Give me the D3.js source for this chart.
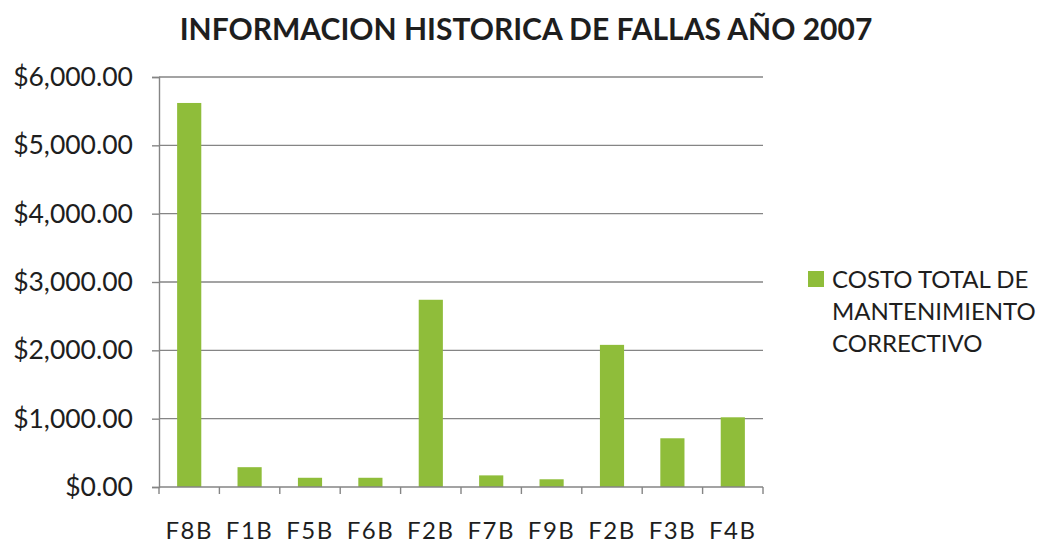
<!DOCTYPE html>
<html>
<head>
<meta charset="utf-8">
<script src="https://cdn.jsdelivr.net/npm/d3@7"></script>
<style>
  html, body { margin: 0; padding: 0; background: #fff; }
  svg { display: block; }
  text { font-family: Lato, "Open Sans", sans-serif; fill: #1e1e1e; }
</style>
</head>
<body>
<svg id="chart" width="1058" height="547"></svg>
<script>
// Fault codes and corrective maintenance cost (USD) for 2007
const categories = ["F8B", "F1B", "F5B", "F6B", "F2B", "F7B", "F9B", "F2B", "F3B", "F4B"];
const costs = [5620, 290, 135, 135, 2740, 170, 113, 2080, 713, 1020];
const yTicks = [0, 1000, 2000, 3000, 4000, 5000, 6000];
const titleText = "INFORMACION HISTORICA DE FALLAS AÑO 2007";
const legendLines = ["COSTO TOTAL DE", "MANTENIMIENTO", "CORRECTIVO"];

const svg = d3.select("#chart");
const margin = { left: 159, right: 295, top: 77, bottom: 60 };
const W = 1058, H = 547;
const plotW = W - margin.left - margin.right;
const plotH = H - margin.top - margin.bottom;

// band index keeps the duplicated "F2B" label as two separate bars
const x = d3.scaleBand()
  .domain(d3.range(categories.length))
  .range([0, plotW])
  .paddingInner(0.6)
  .paddingOuter(0.3);

const y = d3.scaleLinear().domain([0, 6000]).range([plotH, 0]);

const g = svg.append("g").attr("transform", `translate(${margin.left},${margin.top})`);

// horizontal gridlines
g.append("g")
  .selectAll("line")
  .data(yTicks.filter(d => d > 0))
  .join("line")
  .attr("x1", 0).attr("x2", plotW)
  .attr("y1", d => y(d)).attr("y2", d => y(d))
  .attr("stroke", "#858585").attr("stroke-width", 1.4);

// bars
g.append("g")
  .selectAll("rect")
  .data(costs)
  .join("rect")
  .attr("x", (d, i) => x(i))
  .attr("width", x.bandwidth())
  .attr("y", d => y(d))
  .attr("height", d => plotH - y(d))
  .attr("fill", "#8fbd3a");

// y axis
const fmt = d3.format("$,.2f");
const yAxis = g.append("g")
  .call(d3.axisLeft(y).tickValues(yTicks).tickFormat(fmt).tickSize(7).tickPadding(19));
yAxis.select(".domain").attr("stroke", "#858585").attr("stroke-width", 1.4);
yAxis.selectAll(".tick line").attr("stroke", "#858585").attr("stroke-width", 1.4);
yAxis.selectAll(".tick text")
  .style("font-size", "26.5px")
  .style("font-family", "Lato, 'Open Sans', sans-serif")
  .attr("fill", "#1e1e1e");

// x axis with tick marks at band boundaries
const xAxisG = g.append("g").attr("transform", `translate(0,${plotH})`);
xAxisG.append("line")
  .attr("x1", 0).attr("x2", plotW)
  .attr("stroke", "#858585").attr("stroke-width", 1.4);
const step = x.step();
const boundaries = d3.range(categories.length + 1).map(i => i === 0 ? 0 : x(i - 1) + x.bandwidth() + step * x.paddingInner() / 2);
xAxisG.selectAll("line.tk")
  .data(boundaries)
  .join("line")
  .attr("class", "tk")
  .attr("x1", d => Math.min(d, plotW)).attr("x2", d => Math.min(d, plotW))
  .attr("y1", 0).attr("y2", 7)
  .attr("stroke", "#858585").attr("stroke-width", 1.4);
xAxisG.selectAll("text")
  .data(categories)
  .join("text")
  .attr("x", (d, i) => x(i) + x.bandwidth() / 2)
  .attr("y", 52)
  .attr("text-anchor", "middle")
  .style("font-size", "24px")
  .style("letter-spacing", "1.5px")
  .text(d => d);

// title
svg.append("text")
  .attr("x", 526)
  .attr("y", 40)
  .attr("text-anchor", "middle")
  .style("font-size", "30px")
  .style("font-weight", "bold")
  .text(titleText);

// legend
const lg = svg.append("g").attr("transform", "translate(808,271)");
lg.append("rect").attr("width", 16).attr("height", 16).attr("fill", "#8fbd3a");
lg.selectAll("text")
  .data(legendLines)
  .join("text")
  .attr("x", 24)
  .attr("y", (d, i) => 17 + i * 32)
  .style("font-size", "24px")
  .text(d => d);
</script>
</body>
</html>
